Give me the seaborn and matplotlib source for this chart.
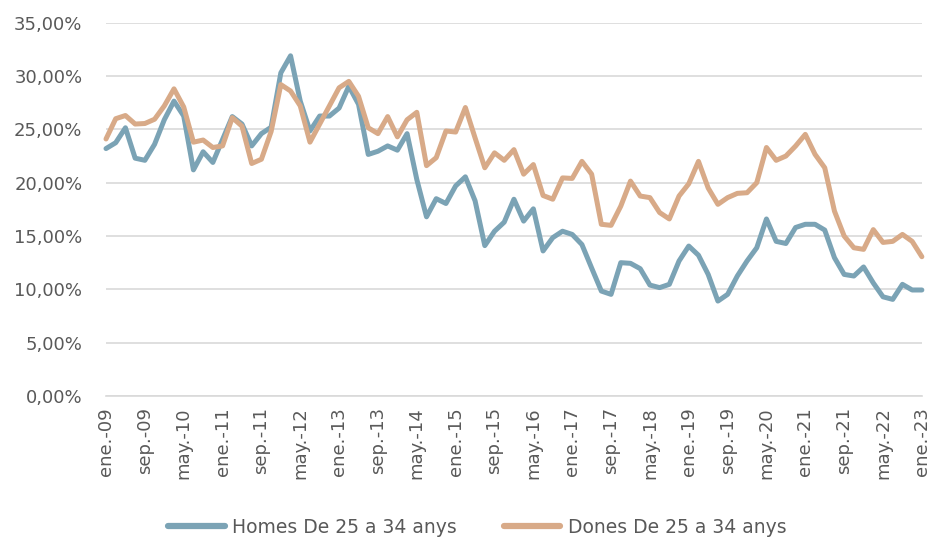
import numpy as np
import pandas as pd
import seaborn as sns
import matplotlib.pyplot as plt
from matplotlib.ticker import FuncFormatter

# Bi-monthly observations, ene-09 .. ene-23 (85 points)
homes = [23.2, 23.75, 25.15, 22.3, 22.1, 23.6, 25.9, 27.65, 26.25, 21.2,
         22.9, 21.9, 24.05, 26.2, 25.5, 23.45, 24.6, 25.2, 30.3, 31.9,
         27.65, 24.85, 26.25, 26.25, 27.0, 29.05, 27.35, 22.65, 22.95, 23.45,
         23.05, 24.6, 20.3, 16.8, 18.5, 18.05, 19.7, 20.55, 18.3, 14.1,
         15.45, 16.3, 18.45, 16.4, 17.55, 13.6, 14.85, 15.45, 15.15, 14.2,
         12.0, 9.84, 9.53, 12.5, 12.44, 11.94, 10.4, 10.16, 10.47, 12.66,
         14.06, 13.2, 11.4, 8.9, 9.53, 11.25, 12.66, 13.9, 16.6, 14.5,
         14.3, 15.8, 16.1, 16.1, 15.56, 12.97, 11.4, 11.25, 12.1, 10.6,
         9.3, 9.06, 10.47, 9.94, 9.94]
dones = [24.1, 26.0, 26.3, 25.5, 25.55, 25.95, 27.2, 28.8, 27.1, 23.8,
         24.0, 23.3, 23.45, 26.1, 25.3, 21.8, 22.2, 24.8, 29.2, 28.6,
         27.2, 23.8, 25.5, 27.2, 28.9, 29.5, 28.1, 25.15, 24.6, 26.2,
         24.3, 25.9, 26.6, 21.6, 22.35, 24.85, 24.75, 27.05, 24.2, 21.4,
         22.8, 22.1, 23.1, 20.8, 21.7, 18.8, 18.45, 20.45, 20.4, 22.0,
         20.8, 16.1, 16.0, 17.8, 20.15, 18.75, 18.6, 17.2, 16.6, 18.75,
         19.9, 22.0, 19.5, 17.97, 18.6, 19.0, 19.06, 20.0, 23.3, 22.1,
         22.5, 23.44, 24.53, 22.66, 21.4, 17.34, 15.0, 13.9, 13.75, 15.6,
         14.4, 14.5, 15.15, 14.5, 13.06]
tick_labels = ["ene.-09", "sep.-09", "may.-10", "ene.-11", "sep.-11", "may.-12",
               "ene.-13", "sep.-13", "may.-14", "ene.-15", "sep.-15", "may.-16",
               "ene.-17", "sep.-17", "may.-18", "ene.-19", "sep.-19", "may.-20",
               "ene.-21", "sep.-21", "may.-22", "ene.-23"]
series_names = ["Homes De 25 a 34 anys", "Dones De 25 a 34 anys"]

n = len(homes)
df = pd.DataFrame({
    "t": list(range(n)) * 2,
    "valor": homes + dones,
    "serie": [series_names[0]] * n + [series_names[1]] * n,
})

sns.set_style("white")
plt.rcParams['font.family'] = ['DejaVu Sans']

fig = plt.figure(figsize=(9.34, 5.45), dpi=100)
ax = fig.add_axes([0.1135, 0.2734, 0.8735, 0.6849])

sns.lineplot(data=df, x="t", y="valor", hue="serie", ax=ax,
             palette=["#7BA3B5", "#D8AA88"], linewidth=3.6, legend=False,
             clip_on=False)

ax.set_xlim(0, n - 1)
ax.set_ylim(0, 35)
ax.set_yticks(np.arange(0, 36, 5))
ax.yaxis.set_major_formatter(FuncFormatter(lambda v, p: f"{v:.2f}%".replace(".", ",")))
ax.set_xticks(range(0, n, 4))
ax.set_xticklabels(tick_labels, rotation=90)
ax.grid(axis="y", color="#d9d9d9", linewidth=1.2)
ax.set_axisbelow(True)
for s in ["top", "right", "left"]:
    ax.spines[s].set_visible(False)
ax.spines["bottom"].set_color("#d9d9d9")
ax.spines["bottom"].set_linewidth(1.2)
ax.tick_params(axis="x", colors="#595959", labelsize=13, length=5, width=1.2,
               color="#d9d9d9", pad=3)
ax.tick_params(axis="y", colors="#595959", labelsize=13, length=0, pad=17)
ax.set_xlabel("")
ax.set_ylabel("")

handles = [plt.Line2D([], [], color=c, linewidth=4.5) for c in ["#7BA3B5", "#D8AA88"]]
fig.legend(handles, series_names, loc="lower center", bbox_to_anchor=(0.511, -0.016),
           ncol=2, frameon=False, fontsize=13.5, handlelength=3.0,
           columnspacing=2.5, handletextpad=0.4, labelcolor="#595959")

plt.savefig("out.png", dpi=100)
